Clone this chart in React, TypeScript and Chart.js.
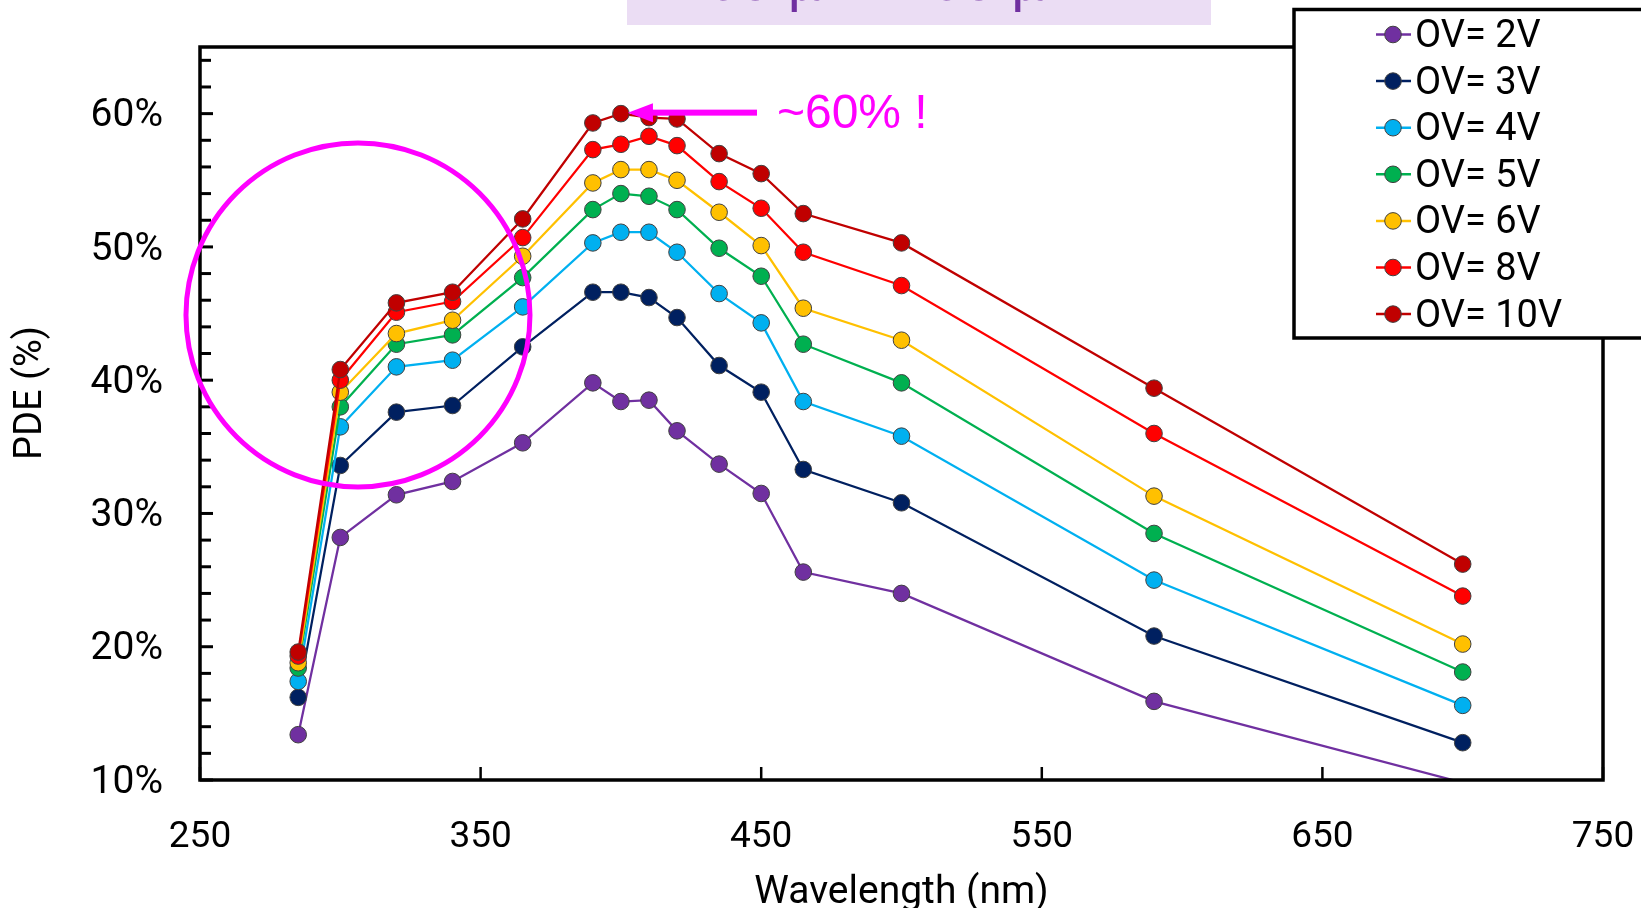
import React, { useEffect, useRef } from "react";
import { Chart, registerables } from "chart.js";

Chart.register(...registerables);

// ---------- data ----------
const WAVELENGTHS = [285, 300, 320, 340, 365, 390, 400, 410, 420, 435, 450, 465, 500, 590, 700];

const OV_LABELS = ["OV= 2V", "OV= 3V", "OV= 4V", "OV= 5V", "OV= 6V", "OV= 8V", "OV= 10V"];
const OV_COLORS = ["#7030A0", "#002060", "#00B0F0", "#00B050", "#FFC000", "#FF0000", "#C00000"];

const PDE_2V = [13.4, 28.2, 31.4, 32.4, 35.3, 39.8, 38.4, 38.5, 36.2, 33.7, 31.5, 25.6, 24.0, 15.9, 9.8];
const PDE_3V = [16.2, 33.6, 37.6, 38.1, 42.5, 46.6, 46.6, 46.2, 44.7, 41.1, 39.1, 33.3, 30.8, 20.8, 12.8];
const PDE_4V = [17.4, 36.5, 41.0, 41.5, 45.5, 50.3, 51.1, 51.1, 49.6, 46.5, 44.3, 38.4, 35.8, 25.0, 15.6];
const PDE_5V = [18.4, 38.0, 42.7, 43.4, 47.7, 52.8, 54.0, 53.8, 52.8, 49.9, 47.8, 42.7, 39.8, 28.5, 18.1];
const PDE_6V = [18.8, 39.1, 43.5, 44.5, 49.3, 54.8, 55.8, 55.8, 55.0, 52.6, 50.1, 45.4, 43.0, 31.3, 20.2];
const PDE_8V = [19.3, 40.0, 45.1, 45.9, 50.7, 57.3, 57.7, 58.3, 57.6, 54.9, 52.9, 49.6, 47.1, 36.0, 23.8];
const PDE_10V = [19.6, 40.8, 45.8, 46.6, 52.1, 59.3, 60.0, 59.7, 59.6, 57.0, 55.5, 52.5, 50.3, 39.4, 26.2];

const SERIES = [PDE_2V, PDE_3V, PDE_4V, PDE_5V, PDE_6V, PDE_8V, PDE_10V];

const X_MIN = 250;
const X_MAX = 750;
const Y_MIN = 10;
const Y_MAX = 65;
const X_TICKS = [250, 350, 450, 550, 650, 750];
const Y_TICKS = [10, 20, 30, 40, 50, 60];
const Y_MINOR_TICKS = [10, 12, 14, 16, 18, 20, 22, 24, 26, 28, 30, 32, 34, 36, 38, 40, 42, 44, 46, 48, 50, 52, 54, 56, 58, 60, 62, 64];

const X_TITLE = "Wavelength (nm)";
const Y_TITLE = "PDE (%)";
const PEAK_NOTE = "~60% !";
const TOP_BANNER = "50 µm x 50 µm";

// annotation anchors in data coordinates
const CIRCLE_CENTER = { x: 306.3, y: 44.9 };
const ARROW_ANCHOR = { fromX: 448.5, toX: 402.5, y: 60.0 };
const NOTE_ANCHOR = { x: 455.6, y: 60.0 };

const FONT = "Roboto, 'Open Sans', sans-serif";

const decorPlugin = {
  id: "decor",
  afterDatasetsDraw(chart: any) {
    const { ctx, chartArea: a, scales } = chart;
    const xs = scales.x;
    const ys = scales.y;
    ctx.save();

    // frame
    ctx.strokeStyle = "#000";
    ctx.lineWidth = 3.5;
    ctx.strokeRect(a.left, a.top, a.right - a.left, a.bottom - a.top);

    // y ticks (inside)
    ctx.lineWidth = 3;
    Y_MINOR_TICKS.forEach((v) => {
      const py = ys.getPixelForValue(v);
      const len = v % 10 === 0 ? 13 : 11;
      ctx.beginPath();
      ctx.moveTo(a.left, py);
      ctx.lineTo(a.left + len, py);
      ctx.stroke();
    });
    // x ticks (inside)
    ctx.lineWidth = 2.5;
    X_TICKS.forEach((v) => {
      const px = xs.getPixelForValue(v);
      ctx.beginPath();
      ctx.moveTo(px, a.bottom);
      ctx.lineTo(px, a.bottom - 13);
      ctx.stroke();
    });

    // magenta circle
    const cx = xs.getPixelForValue(CIRCLE_CENTER.x);
    const cy = ys.getPixelForValue(CIRCLE_CENTER.y);
    ctx.strokeStyle = "#FF00FF";
    ctx.lineWidth = 5;
    ctx.beginPath();
    ctx.arc(cx, cy, 172, 0, Math.PI * 2);
    ctx.stroke();

    // arrow
    const ax0 = xs.getPixelForValue(ARROW_ANCHOR.fromX);
    const ax1 = xs.getPixelForValue(ARROW_ANCHOR.toX);
    const ay = ys.getPixelForValue(ARROW_ANCHOR.y) - 1;
    ctx.fillStyle = "#FF00FF";
    ctx.fillRect(ax1 + 22, ay - 3, ax0 - ax1 - 22, 6);
    ctx.beginPath();
    ctx.moveTo(ax1, ay);
    ctx.lineTo(ax1 + 25, ay - 9.5);
    ctx.lineTo(ax1 + 25, ay + 9.5);
    ctx.closePath();
    ctx.fill();

    // note text
    ctx.font = "48px 'Liberation Sans', Arial, sans-serif";
    ctx.textAlign = "left";
    ctx.textBaseline = "middle";
    ctx.fillText(PEAK_NOTE, xs.getPixelForValue(NOTE_ANCHOR.x), ys.getPixelForValue(NOTE_ANCHOR.y) + 1);

    // y title
    ctx.save();
    ctx.fillStyle = "#000";
    ctx.font = `38px ${FONT}`;
    ctx.translate(31, 393);
    ctx.rotate(-Math.PI / 2);
    ctx.textAlign = "center";
    ctx.textBaseline = "middle";
    ctx.fillText(Y_TITLE, 0, 0);
    ctx.restore();

    // legend box
    const lx = 1294;
    const ly = 9.5;
    ctx.fillStyle = "#fff";
    ctx.fillRect(lx, ly, 400, 338 - ly);
    ctx.strokeStyle = "#000";
    ctx.lineWidth = 3.5;
    ctx.strokeRect(lx, ly, 400, 338 - ly);
    chart.data.datasets.forEach((ds: any, i: number) => {
      const rowY = 34.5 + i * 46.6;
      ctx.strokeStyle = ds.borderColor;
      ctx.lineWidth = 2.5;
      ctx.beginPath();
      ctx.moveTo(1376, rowY);
      ctx.lineTo(1411, rowY);
      ctx.stroke();
      ctx.fillStyle = ds.backgroundColor;
      ctx.strokeStyle = "#404040";
      ctx.lineWidth = 1;
      ctx.beginPath();
      ctx.arc(1393, rowY, 8.3, 0, Math.PI * 2);
      ctx.fill();
      ctx.stroke();
      ctx.fillStyle = "#000";
      ctx.font = `38px ${FONT}`;
      ctx.textAlign = "left";
      ctx.textBaseline = "middle";
      ctx.fillText(ds.label, 1415, rowY + 3);
    });

    // top banner (cut by the image edge)
    ctx.fillStyle = "#EBDDF4";
    ctx.fillRect(627, 0, 584, 25);
    ctx.fillStyle = "#7030A0";
    ctx.font = "58px 'Liberation Sans', Arial, sans-serif";
    ctx.textAlign = "center";
    ctx.textBaseline = "alphabetic";
    ctx.fillText(TOP_BANNER, 900, 0);

    ctx.restore();
  },
};

export default function App() {
  const canvasRef = useRef<HTMLCanvasElement | null>(null);

  useEffect(() => {
    if (!canvasRef.current) return;
    const datasets = SERIES.map((vals, i) => ({
      label: OV_LABELS[i],
      data: WAVELENGTHS.map((w, j) => ({ x: w, y: vals[j] })),
      borderColor: OV_COLORS[i],
      backgroundColor: OV_COLORS[i],
      pointBackgroundColor: OV_COLORS[i],
      pointBorderColor: "#404040",
      pointBorderWidth: 1,
      pointRadius: (c: any) => (c.raw && c.raw.y < Y_MIN ? 0 : 8.3),
      borderWidth: 2.25,
      tension: 0,
      order: SERIES.length - i,
    }));

    const chart = new Chart(canvasRef.current, {
      type: "line",
      data: { datasets },
      plugins: [decorPlugin],
      options: {
        animation: false,
        responsive: false,
        events: [],
        layout: { padding: { top: 47, right: 38, left: 0, bottom: 0 } },
        plugins: {
          legend: { display: false },
          tooltip: { enabled: false },
          title: { display: false },
        },
        scales: {
          x: {
            type: "linear",
            min: X_MIN,
            max: X_MAX,
            afterBuildTicks: (axis: any) => {
              axis.ticks = X_TICKS.map((v) => ({ value: v }));
            },
            afterFit: (scale: any) => {
              scale.height = 128;
              scale.paddingLeft = 0;
              scale.paddingRight = 0;
              scale.paddingTop = 0;
              scale.paddingBottom = 0;
            },
            grid: { display: false, drawTicks: false },
            border: { display: false },
            ticks: {
              color: "#000",
              padding: 36,
              maxRotation: 0,
              autoSkip: false,
              font: { family: FONT, size: 37 },
              callback: (v: any) => String(v),
            },
            title: {
              display: true,
              text: X_TITLE,
              color: "#000",
              font: { family: FONT, size: 39, lineHeight: 0.75 },
              padding: { top: 0, bottom: 0 },
            },
          },
          y: {
            type: "linear",
            min: Y_MIN,
            max: Y_MAX,
            afterBuildTicks: (axis: any) => {
              axis.ticks = Y_TICKS.map((v) => ({ value: v }));
            },
            afterFit: (scale: any) => {
              scale.width = 200;
              scale.paddingLeft = 0;
              scale.paddingRight = 0;
              scale.paddingTop = 0;
              scale.paddingBottom = 0;
            },
            grid: { display: false, drawTicks: false },
            border: { display: false },
            ticks: {
              color: "#000",
              padding: 37,
              labelOffset: 3,
              autoSkip: false,
              font: { family: FONT, size: 39 },
              callback: (v: any) => `${v}%`,
            },
          },
        },
      },
    });
    return () => chart.destroy();
  }, []);

  return (
    <div style={{ position: "absolute", left: 0, top: 0, width: 1641, height: 908, background: "#fff" }}>
      <canvas ref={canvasRef} width={1641} height={908} style={{ display: "block", width: 1641, height: 908 }} />
    </div>
  );
}
